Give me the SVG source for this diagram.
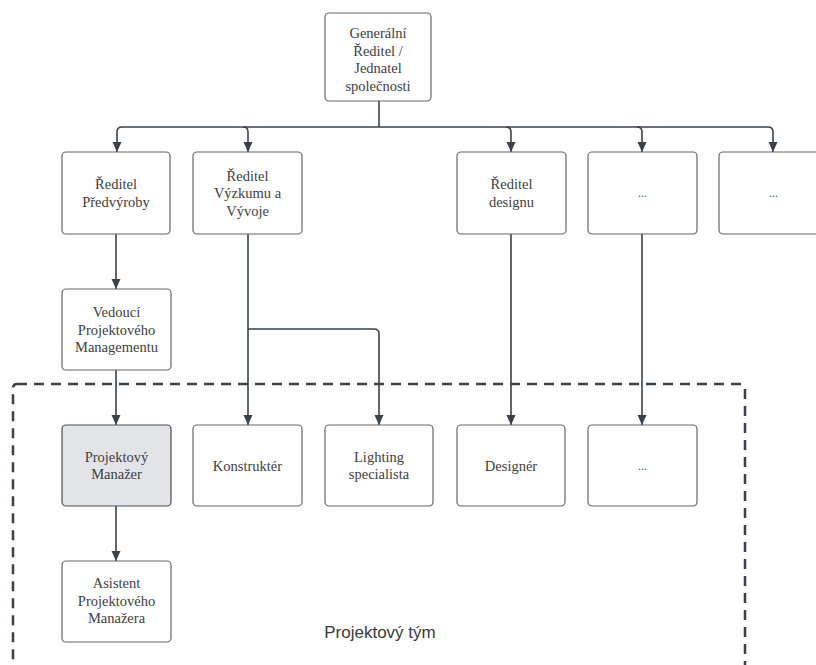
<svg xmlns="http://www.w3.org/2000/svg" width="816" height="665" viewBox="0 0 816 665">
  <style>
    .box { fill: #ffffff; stroke: #63666c; stroke-width: 1.2; }
    .gray { fill: #e2e4e8; stroke: #4a4e55; stroke-width: 1.2; }
    .lbl { font-family: 'Liberation Serif', 'Times New Roman', serif; font-size: 14.5px; fill: #404040; text-anchor: middle; }
    .dots { font-family: 'Liberation Serif', serif; font-size: 12px; fill: #555555; text-anchor: middle; }
    .conn { fill: none; stroke: #3a414a; stroke-width: 1.6; }
    .team { fill: none; stroke: #3a414a; stroke-width: 2.5; stroke-dasharray: 10 7; }
    .title { font-family: 'Liberation Sans', 'Noto Sans', sans-serif; font-size: 17px; fill: #3a3a3a; text-anchor: middle; }
  </style>
  <defs>
    <marker id="arr" markerUnits="userSpaceOnUse" markerWidth="10" markerHeight="10" refX="10" refY="4.5" orient="auto">
      <path d="M0,0 L10,4.5 L0,9 Z" fill="#3a414a"/>
    </marker>
  </defs>
  <rect width="816" height="665" fill="#ffffff"/>

  <g id="team-boundary">
    <rect class="team" x="13" y="384" width="732" height="320" rx="4"/>
    <text class="title" x="380" y="638">Projektový tým</text>
  </g>

  <g id="connectors">
    <path class="conn" d="M379,101 V127"/>
    <path class="conn" d="M379,127 H122 Q117,127 117,132 V152" marker-end="url(#arr)"/>
    <path class="conn" d="M379,127 H768 Q773,127 773,132 V152" marker-end="url(#arr)"/>
    <path class="conn" d="M243,127 Q248,127 248,132 V152" marker-end="url(#arr)"/>
    <path class="conn" d="M506,127 Q511,127 511,132 V152" marker-end="url(#arr)"/>
    <path class="conn" d="M637,127 Q642,127 642,132 V152" marker-end="url(#arr)"/>
    <path class="conn" d="M116,234 V289" marker-end="url(#arr)"/>
    <path class="conn" d="M116,370 V425" marker-end="url(#arr)"/>
    <path class="conn" d="M116,506 V561" marker-end="url(#arr)"/>
    <path class="conn" d="M248,234 V425" marker-end="url(#arr)"/>
    <path class="conn" d="M248,329 H374 Q379,329 379,334 V425" marker-end="url(#arr)"/>
    <path class="conn" d="M511,234 V425" marker-end="url(#arr)"/>
    <path class="conn" d="M642,234 V425" marker-end="url(#arr)"/>
  </g>

  <g id="n-generalni">
    <rect class="box" x="325" y="13" width="106" height="88" rx="4"/>
    <text class="lbl" x="378" y="38">Generální</text>
    <text class="lbl" x="378" y="55.5">Ředitel /</text>
    <text class="lbl" x="378" y="73">Jednatel</text>
    <text class="lbl" x="378" y="90.5">společnosti</text>
  </g>

  <g id="n-predvyroba">
    <rect class="box" x="62" y="152" width="108" height="82" rx="4"/>
    <text class="lbl" x="116" y="189">Ředitel</text>
    <text class="lbl" x="116" y="206.5">Předvýroby</text>
  </g>

  <g id="n-vyzkum">
    <rect class="box" x="193" y="152" width="109" height="82" rx="4"/>
    <text class="lbl" x="247.5" y="180.5">Ředitel</text>
    <text class="lbl" x="247.5" y="198">Výzkumu a</text>
    <text class="lbl" x="247.5" y="215.5">Vývoje</text>
  </g>

  <g id="n-design">
    <rect class="box" x="457" y="152" width="109" height="82" rx="4"/>
    <text class="lbl" x="511.5" y="189">Ředitel</text>
    <text class="lbl" x="511.5" y="206.5">designu</text>
  </g>

  <g id="n-dots1">
    <rect class="box" x="588" y="152" width="109" height="82" rx="4"/>
    <text class="dots" x="642.5" y="197">...</text>
  </g>

  <g id="n-dots2">
    <rect class="box" x="719" y="152" width="109" height="82" rx="4"/>
    <text class="dots" x="773.5" y="197">...</text>
  </g>

  <g id="n-vedouci">
    <rect class="box" x="62" y="289" width="109" height="81" rx="4"/>
    <text class="lbl" x="116.5" y="317">Vedoucí</text>
    <text class="lbl" x="116.5" y="334.5">Projektového</text>
    <text class="lbl" x="116.5" y="352">Managementu</text>
  </g>

  <g id="n-manazer">
    <rect class="gray" x="62" y="425" width="109" height="81" rx="4"/>
    <text class="lbl" x="116.5" y="461.5">Projektový</text>
    <text class="lbl" x="116.5" y="479">Manažer</text>
  </g>

  <g id="n-konstrukter">
    <rect class="box" x="193" y="425" width="109" height="81" rx="4"/>
    <text class="lbl" x="247.5" y="470.5">Konstruktér</text>
  </g>

  <g id="n-lighting">
    <rect class="box" x="325" y="425" width="108" height="81" rx="4"/>
    <text class="lbl" x="379" y="461.5">Lighting</text>
    <text class="lbl" x="379" y="479">specialista</text>
  </g>

  <g id="n-designer">
    <rect class="box" x="457" y="425" width="108" height="81" rx="4"/>
    <text class="lbl" x="511" y="470.5">Designér</text>
  </g>

  <g id="n-dots3">
    <rect class="box" x="588" y="425" width="109" height="81" rx="4"/>
    <text class="dots" x="642.5" y="470">...</text>
  </g>

  <g id="n-asistent">
    <rect class="box" x="62" y="561" width="109" height="81" rx="4"/>
    <text class="lbl" x="116.5" y="588">Asistent</text>
    <text class="lbl" x="116.5" y="605.5">Projektového</text>
    <text class="lbl" x="116.5" y="623">Manažera</text>
  </g>
</svg>
